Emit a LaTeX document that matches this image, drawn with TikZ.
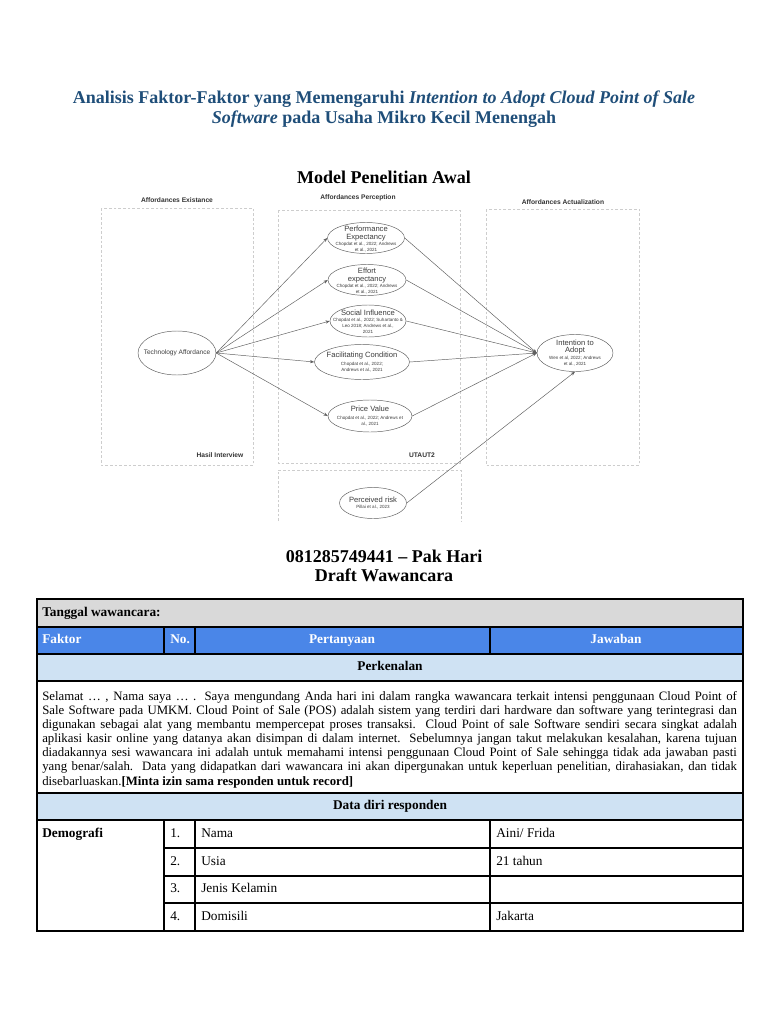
\documentclass[tikz,border=0pt]{standalone}
\usepackage{fontspec}
\setmainfont{Liberation Serif}
\newfontfamily\diagfont{Liberation Sans}
\usetikzlibrary{shapes.geometric,arrows.meta}
\definecolor{titleblue}{RGB}{31,78,121}
\definecolor{hdrblue}{RGB}{74,134,232}
\definecolor{lightblue}{RGB}{207,226,243}
\definecolor{rowgray}{RGB}{217,217,217}
\definecolor{diaggray}{RGB}{95,95,95}
\definecolor{boxgray}{RGB}{205,205,205}
\definecolor{difftext}{RGB}{60,60,60}
\newcommand\citef{\fontsize{3.4}{4.3}\selectfont}
\begin{document}
\begin{tikzpicture}[x=0.75pt,y=-0.75pt,
  ell/.style={draw=diaggray, line width=0.35pt, ellipse, inner sep=0pt},
  lbl/.style={font=\diagfont\fontsize{5.7}{4.6}\selectfont, text=difftext, align=center, inner sep=0pt},
  conn/.style={draw=diaggray, line width=0.35pt, -{Stealth[length=3.2pt,width=2.4pt]}},
  grp/.style={draw=boxgray, line width=0.4pt, dash pattern=on 2pt off 1.5pt},
  grplbl/.style={font=\diagfont\bfseries\fontsize{5}{6}\selectfont, text=black!80, inner sep=0pt},
  tline/.style={draw=black, line width=0.9pt},
  ttext/.style={font=\fontsize{10}{12}\selectfont, inner sep=0pt, text height=6.8pt, text depth=2pt},
  tbold/.style={font=\bfseries\fontsize{10}{12}\selectfont, inner sep=0pt, text height=6.8pt, text depth=2pt},
  hdr/.style={font=\bfseries\fontsize{10}{12}\selectfont, text=white, inner sep=0pt, text height=6.8pt, text depth=2pt}
]
\useasboundingbox (0,0) rectangle (768,1024);
\fill[white] (0,0) rectangle (768,1024);

% ---------- titles ----------
\node[font=\bfseries\fontsize{13.5}{15}\selectfont, text=titleblue, align=center] (title) at (384,109)
  {Analisis Faktor-Faktor yang Memengaruhi \textit{Intention to Adopt Cloud Point of Sale}\\
   \textit{Software} pada Usaha Mikro Kecil Menengah};
\node[font=\bfseries\fontsize{13.5}{15}\selectfont] (model) at (384,177) {Model Penelitian Awal};

% ---------- group boxes ----------
\draw[grp] (101,208) rectangle (253,465);
\draw[grp] (278,210) rectangle (460,463);
\draw[grp] (486,209) rectangle (639,465);
\draw[grp] (278,521) -- (278,470) -- (461,470) -- (461,521);
\node[grplbl] (g1) at (177,200) {Affordances Existance};
\node[grplbl] (g2) at (358,198) {Affordances Perception};
\node[grplbl] (g3) at (563,202) {Affordances Actualization};
\node[grplbl] (g4) at (220,455) {Hasil Interview};
\node[grplbl] (g5) at (422,455) {UTAUT2};

% ---------- ellipses ----------
\node[ell, minimum width=58.5pt, minimum height=33pt] (ta) at (177,353) {};
\node[ell, minimum width=57.75pt, minimum height=23.25pt] (pe) at (366,238) {};
\node[ell, minimum width=58.5pt, minimum height=23.25pt] (ee) at (367,280) {};
\node[ell, minimum width=57pt, minimum height=24pt] (si) at (368,321) {};
\node[ell, minimum width=71.25pt, minimum height=26.25pt] (fc) at (362,362) {};
\node[ell, minimum width=63pt, minimum height=24pt] (pv) at (370,416) {};
\node[ell, minimum width=50.25pt, minimum height=23.25pt] (pr) at (373,503) {};
\node[ell, minimum width=57pt, minimum height=27.75pt] (ita) at (575,353) {};

\node[lbl, font=\diagfont\fontsize{4.9}{5}\selectfont] (tat) at (ta) {Technology Affordance};
\node[lbl] (pet) at ([yshift=-0.8pt]pe.center) {Performance\\[0.9pt]Expectancy\\\citef Chopdat et al., 2022; Andrews\\\citef et al., 2021};
\node[lbl] (eet) at ([yshift=-0.8pt]ee.center) {Effort\\[0.9pt]expectancy\\\citef Chopdat et al., 2022; Andrews\\\citef et al., 2021};
\node[lbl] (sit) at ([yshift=-0.5pt]si.center) {Social Influence\\\citef Chopdat et al., 2022; Suhartanto \&\\\citef Leo 2018; Andrews et al.,\\\citef 2021};
\node[lbl] (fct) at (fc) {Facilitating Condition\\[2pt]\citef Chopdat et al., 2022;\\\citef Andrews et al., 2021};
\node[lbl] (pvt) at (pv) {Price Value\\[2pt]\citef Chopdat et al., 2022; Andrews et\\\citef al., 2021};
\node[lbl] (prt) at (pr) {Perceived risk\\\citef Pillai et al., 2023};
\node[lbl] (itat) at (ita) {Intention to\\[0.8pt]Adopt\\\citef Wen et al, 2022; Andrews\\\citef et al., 2021};

% ---------- connectors ----------
\draw[conn] (ta.east) -- (pe.west);
\draw[conn] (ta.east) -- (ee.west);
\draw[conn] (ta.east) -- (si.west);
\draw[conn] (ta.east) -- (fc.west);
\draw[conn] (ta.east) -- (pv.west);
\draw[conn] (pe.east) -- (ita.west);
\draw[conn] (ee.east) -- (ita.west);
\draw[conn] (si.east) -- (ita.west);
\draw[conn] (fc.east) -- (ita.west);
\draw[conn] (pv.east) -- (ita.west);
\draw[conn] (pr.east) -- (ita.south);

% ---------- contact ----------
\node[font=\bfseries\fontsize{13.5}{14.5}\selectfont, align=center] (contact) at (384,566)
  {081285749441 -- Pak Hari\\Draft Wawancara};

% ---------- table fills ----------
\fill[rowgray] (37,599) rectangle (743,627);
\fill[hdrblue] (37,627) rectangle (743,654);
\fill[lightblue] (37,654) rectangle (743,681);
\fill[lightblue] (37,793) rectangle (743,820);

% ---------- table lines ----------
\draw[tline] (37,599) rectangle (743,931);
\foreach \yy in {627,654,681,793,820} \draw[tline] (37,\yy) -- (743,\yy);
\foreach \yy in {848,876,903} \draw[tline] (164,\yy) -- (743,\yy);
\draw[tline] (164,627) -- (164,654);
\draw[tline] (195,627) -- (195,654);
\draw[tline] (490,627) -- (490,654);
\draw[tline] (164,820) -- (164,931);
\draw[tline] (195,820) -- (195,931);
\draw[tline] (490,820) -- (490,931);

% ---------- table text ----------
\node[tbold, anchor=west] (tgl) at (42,613) {Tanggal wawancara:};
\node[hdr, anchor=west] (hf) at (42,640) {Faktor};
\node[hdr, anchor=west] (hn) at (170,640) {No.};
\node[hdr] (hp) at (342,640) {Pertanyaan};
\node[hdr] (hj) at (616,640) {Jawaban};
\node[tbold] (perk) at (390,667) {Perkenalan};
\node[font=\fontsize{9.6}{10.6}\selectfont, text width=521pt, align=justify, anchor=north west, inner sep=0pt] (par) at (42,691)
 {Selamat … , Nama saya … . Saya mengundang Anda hari ini dalam rangka wawancara terkait intensi penggunaan Cloud Point of\linebreak
  Sale Software pada UMKM. Cloud Point of Sale (POS) adalah sistem yang terdiri dari hardware dan software yang terintegrasi dan\linebreak
  digunakan sebagai alat yang membantu mempercepat proses transaksi.\ \ Cloud Point of sale Software sendiri secara singkat adalah\linebreak
  aplikasi kasir online yang datanya akan disimpan di dalam internet. Sebelumnya jangan takut melakukan kesalahan, karena tujuan\linebreak
  diadakannya sesi wawancara ini adalah untuk memahami intensi penggunaan Cloud Point of Sale sehingga tidak ada jawaban pasti\linebreak
  yang benar/salah.\ \ Data yang didapatkan dari wawancara ini akan dipergunakan untuk keperluan penelitian, dirahasiakan, dan tidak\linebreak
  disebarluaskan.\textbf{[Minta izin sama responden untuk record]}};
\node[tbold] (ddr) at (390,806) {Data diri responden};
\node[tbold, anchor=west] (demo) at (42,834) {Demografi};
\node[ttext, anchor=west] (n1) at (170,834) {1.};
\node[ttext, anchor=west] (n2) at (170,862) {2.};
\node[ttext, anchor=west] (n3) at (170,889) {3.};
\node[ttext, anchor=west] (n4) at (170,917) {4.};
\node[ttext, anchor=west] (q1) at (201,834) {Nama};
\node[ttext, anchor=west] (q2) at (201,862) {Usia};
\node[ttext, anchor=west] (q3) at (201,889) {Jenis Kelamin};
\node[ttext, anchor=west] (q4) at (201,917) {Domisili};
\node[ttext, anchor=west] (a1) at (496,834) {Aini/ Frida};
\node[ttext, anchor=west] (a2) at (496,862) {21 tahun};
\node[ttext, anchor=west] (a4) at (496,917) {Jakarta};
\end{tikzpicture}
\end{document}
